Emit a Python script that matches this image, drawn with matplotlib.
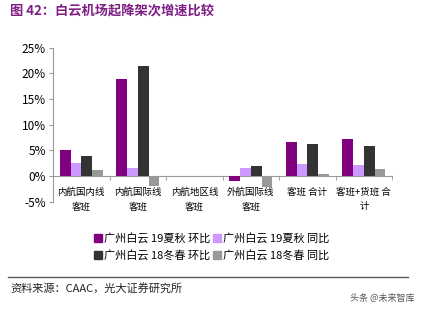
import numpy as np
import matplotlib
matplotlib.use('Agg')
from matplotlib import pyplot as plt
from matplotlib.lines import Line2D

plt.rcParams['font.family'] = ['Noto Sans CJK SC', 'DejaVu Sans']

categories = ['内航国内线\n客班', '内航国际线\n客班', '内航地区线\n客班',
              '外航国际线\n客班', '客班 合计', '客班+货班 合\n计']
series_names = ['广州白云 19夏秋 环比', '广州白云 19夏秋 同比',
                '广州白云 18冬春 环比', '广州白云 18冬春 同比']
s19_hb = [5.0, 18.9, 0.0, -1.0, 6.6, 7.2]
s19_tb = [2.6, 1.6, 0.0, 1.6, 2.4, 2.1]
s18_hb = [3.9, 21.5, 0.0, 1.9, 6.3, 5.8]
s18_tb = [1.2, -1.9, 0.0, -2.1, 0.4, 1.4]
colors = ['#800080', '#CC99FF', '#333333', '#999999']

fig = plt.figure(figsize=(4.24, 3.11), dpi=100)
ax = fig.add_axes([0.125, 0.351, 0.8, 0.496])

x = np.arange(len(categories))
w = 0.19
for i, vals in enumerate([s19_hb, s19_tb, s18_hb, s18_tb]):
    ax.bar(x - 0.38 + w * i, vals, width=w, align='edge', color=colors[i],
           label=series_names[i], zorder=2)

ax.set_xlim(-0.5, len(categories) - 0.5)
ax.set_ylim(-5, 25)
ax.set_yticks(range(-5, 26, 5))
ax.set_yticklabels([f'{v}%' for v in range(-5, 26, 5)], fontsize=8.5)

for s in ['top', 'right']:
    ax.spines[s].set_visible(False)
ax.spines['left'].set_color('#999999')
ax.spines['bottom'].set_color('#999999')
ax.spines['bottom'].set_position(('data', 0))
ax.spines['bottom'].set_zorder(1)
ax.tick_params(axis='y', length=3, color='#999999', pad=2)
ax.set_xticks(x)
ax.set_xticklabels(categories, fontsize=6.8, linespacing=1.8)
ax.tick_params(axis='x', length=0, pad=8)
ax.set_xticks(np.arange(-0.5, len(categories), 1), minor=True)
ax.tick_params(axis='x', which='minor', length=3, color='#999999')

# legend is filled row by row in the reference
order = [0, 2, 1, 3]
handles = [Line2D([], [], marker='s', linestyle='none', markersize=6,
                  color=colors[i]) for i in order]
fig.legend(handles, [series_names[i] for i in order], ncol=2, loc='center',
           bbox_to_anchor=(0.5, 0.205), frameon=False, fontsize=8,
           handlelength=0.6, handletextpad=0.2, columnspacing=0.3,
           labelspacing=0.55, borderpad=0)

fig.text(0.024, 0.962, '图 42：白云机场起降架次增速比较', fontsize=9.5,
         fontweight='bold', color='#7F1F86', va='center')

fig.add_artist(Line2D([0.019, 0.962], [0.109, 0.109], color='#555555',
                      linewidth=1))
fig.text(0.024, 0.074, '资料来源：CAAC，光大证券研究所', fontsize=8,
         color='#222222', va='center')
fig.text(0.978, 0.042, '头条 @未来智库', fontsize=6.5, color='#555555',
         va='center', ha='right')

fig.savefig('out.png', dpi=100)
